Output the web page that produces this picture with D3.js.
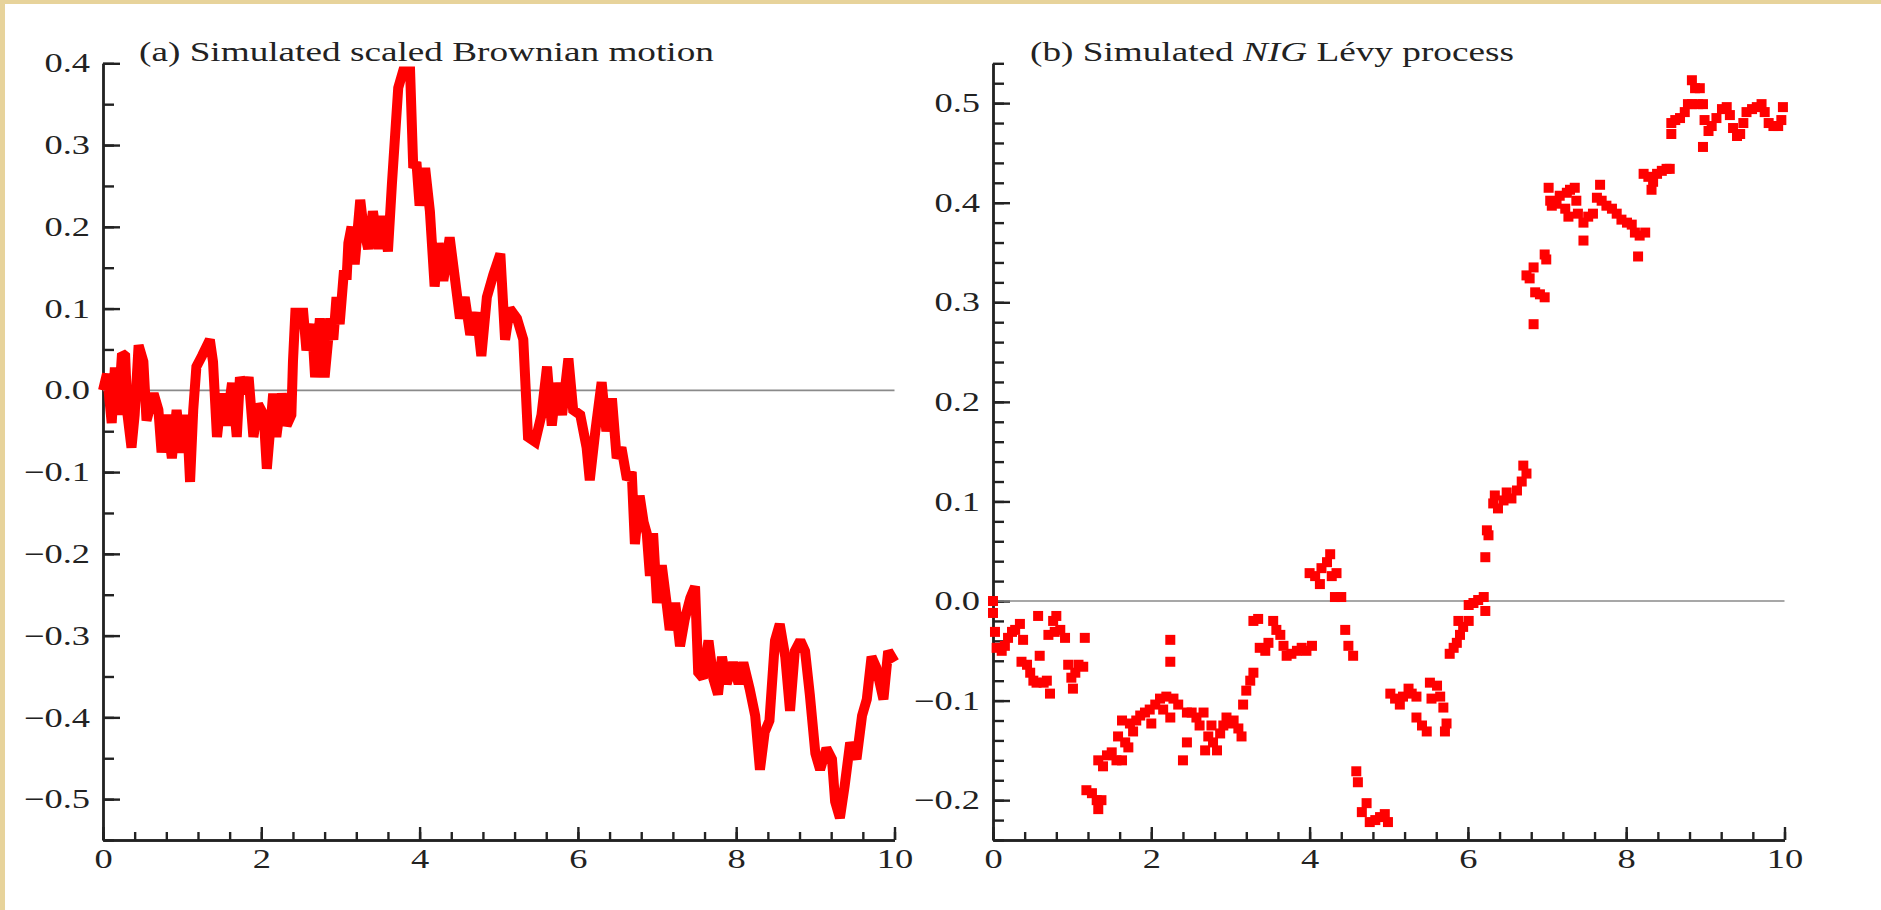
<!DOCTYPE html>
<html lang="en">
<head>
<meta charset="utf-8">
<title>Simulated Brownian motion and NIG Levy process</title>
<script src="https://cdnjs.cloudflare.com/ajax/libs/d3/7.8.5/d3.min.js"></script>
<style>
  body { margin: 0; background: #fff; overflow: hidden; }
  text { font-family: "Liberation Serif", "Times New Roman", serif; fill: #222; }
</style>
</head>
<body>
<script>
// (a) scaled Brownian motion
var bmT = [0.00,0.05,0.11,0.15,0.19,0.24,0.28,0.31,0.36,0.40,0.45,0.51,0.55,0.64,0.70,0.74,0.80,0.87,0.93,0.99,
  1.06,1.10,1.14,1.18,1.25,1.35,1.39,1.44,1.50,1.56,1.63,1.69,1.73,1.79,1.84,1.90,1.96,2.03,2.07,2.15,
  2.19,2.26,2.32,2.38,2.40,2.43,2.53,2.57,2.64,2.68,2.74,2.80,2.87,2.91,2.95,2.99,3.04,3.08,3.10,3.14,
  3.18,3.25,3.29,3.35,3.41,3.48,3.54,3.60,3.65,3.69,3.73,3.79,3.88,3.92,3.96,4.00,4.07,4.13,4.19,4.24,
  4.30,4.38,4.45,4.51,4.57,4.64,4.72,4.78,4.85,4.93,
  5.02,5.08,5.14,5.23,5.31,5.37,5.46,5.54,5.61,5.67,5.73,5.80,5.88,5.94,6.03,6.11,6.15,6.22,6.30,6.36,
  6.43,6.49,6.55,6.62,6.68,6.72,6.78,6.83,6.87,6.91,6.95,7.00,7.06,7.12,7.16,7.23,7.29,7.35,7.42,7.48,
  7.52,7.58,7.65,7.71,7.77,7.82,7.88,7.96,8.03,8.09,8.17,8.24,8.30,8.36,8.42,8.49,8.55,8.62,8.68,8.74,
  8.81,8.87,8.93,9.00,9.06,9.14,9.21,9.25,9.31,9.37,9.44,9.52,9.59,9.65,9.71,9.77,9.86,9.92,10.0];
var bmV = [0.00,0.02,-0.04,0.028,-0.03,0.045,0.042,-0.03,-0.07,-0.03,0.055,0.035,-0.037,-0.004,-0.024,-0.076,-0.03,-0.083,-0.024,-0.076,
  -0.03,-0.112,-0.024,0.029,0.042,0.062,0.035,-0.057,-0.004,-0.043,0.009,-0.057,0.016,-0.004,0.016,-0.057,-0.017,-0.03,-0.096,-0.004,
  -0.057,-0.004,-0.043,-0.03,0.035,0.095,0.095,0.049,0.081,0.016,0.088,0.016,0.088,0.062,0.114,0.081,0.141,0.141,0.18,0.20,
  0.154,0.233,0.20,0.173,0.219,0.173,0.213,0.17,0.252,0.311,0.37,0.39,0.39,0.272,0.279,0.226,0.272,0.219,0.127,0.18,
  0.134,0.187,0.134,0.088,0.114,0.068,0.095,0.042,0.114,0.141,
  0.167,0.062,0.10,0.088,0.062,-0.057,-0.063,-0.03,0.029,-0.043,0.009,-0.03,0.039,-0.024,-0.03,-0.07,-0.11,-0.05,0.01,-0.05,
  -0.01,-0.083,-0.07,-0.109,-0.10,-0.188,-0.129,-0.161,-0.175,-0.227,-0.175,-0.26,-0.214,-0.26,-0.293,-0.26,-0.313,-0.28,-0.254,-0.24,
  -0.345,-0.352,-0.306,-0.352,-0.372,-0.326,-0.359,-0.333,-0.359,-0.333,-0.365,-0.398,-0.464,-0.418,-0.404,-0.306,-0.286,-0.326,-0.392,-0.319,
  -0.306,-0.319,-0.372,-0.444,-0.464,-0.438,-0.451,-0.503,-0.523,-0.484,-0.431,-0.451,-0.398,-0.378,-0.326,-0.339,-0.378,-0.319,-0.332];

// (b) NIG Levy process, one entry per plotted square
var nigT = [0.00,0.00,0.025,0.046,0.11,0.15,0.19,0.24,0.28,0.34,0.38,0.36,0.43,0.47,0.51,0.55,0.59,0.57,0.64,0.68,
  0.72,0.70,0.76,0.80,0.78,0.85,0.91,0.95,0.99,1.04,1.08,1.14,1.01,1.16,1.18,1.25,1.31,1.33,1.37,1.33,
  1.39,1.44,1.50,1.56,1.63,1.58,1.63,1.67,1.71,1.73,1.77,1.81,1.86,1.92,1.98,2.00,2.05,2.11,2.15,2.19,
  2.24,2.28,2.24,2.24,2.34,2.40,2.45,2.45,2.51,2.57,2.61,2.66,2.68,2.72,2.76,2.78,2.83,2.87,2.91,2.95,
  2.99,3.04,3.10,3.14,3.16,3.20,3.25,3.29,3.29,3.35,3.37,3.44,3.48,3.54,3.58,3.63,3.67,3.71,3.77,3.84,
  3.90,3.96,4.03,4.00,4.07,4.13,4.15,4.22,4.26,4.28,4.34,4.32,4.40,4.45,4.49,4.55,4.59,4.61,4.66,4.72,
  4.76,4.83,4.89,4.95,4.99,5.02,5.08,5.14,5.18,5.25,5.29,5.35,5.35,5.42,5.48,5.52,5.54,5.61,5.65,5.69,
  5.73,5.71,5.77,5.82,5.86,5.90,5.88,5.94,6.01,6.01,6.07,6.13,6.20,6.22,6.22,6.26,6.24,6.32,6.34,6.38,
  6.45,6.49,6.55,6.62,6.68,6.70,6.74,6.74,6.78,6.83,6.85,6.91,6.97,6.83,6.97,6.99,7.02,7.04,7.06,7.12,
  7.16,7.23,7.27,7.25,7.29,7.35,7.37,7.39,7.46,7.46,7.52,7.58,7.63,7.67,7.69,7.75,7.82,7.88,7.94,8.01,
  8.07,8.11,8.17,8.24,8.15,8.22,8.28,8.32,8.34,8.39,8.45,8.51,8.55,8.57,8.57,8.62,8.68,8.74,8.78,8.83,
  8.87,8.93,8.83,8.91,8.97,8.97,8.99,9.04,9.08,9.14,9.21,9.27,9.31,9.35,9.40,9.44,9.48,9.52,9.59,9.65,
  9.71,9.75,9.80,9.86,9.92,9.96,9.98];
var nigV = [0.000,-0.012,-0.031,-0.047,-0.050,-0.045,-0.037,-0.031,-0.029,-0.023,-0.039,-0.061,-0.064,-0.072,-0.080,-0.082,-0.055,-0.015,-0.082,-0.080,
  -0.093,-0.034,-0.020,-0.015,-0.031,-0.029,-0.037,-0.064,-0.077,-0.072,-0.064,-0.066,-0.088,-0.037,-0.190,-0.193,-0.200,-0.209,-0.200,-0.160,
  -0.166,-0.155,-0.152,-0.160,-0.160,-0.136,-0.120,-0.142,-0.147,-0.123,-0.131,-0.120,-0.115,-0.112,-0.109,-0.123,-0.104,-0.098,-0.109,-0.096,
  -0.117,-0.098,-0.039,-0.061,-0.104,-0.160,-0.142,-0.112,-0.112,-0.117,-0.125,-0.112,-0.150,-0.136,-0.125,-0.142,-0.150,-0.133,-0.125,-0.117,
  -0.123,-0.120,-0.128,-0.136,-0.104,-0.090,-0.080,-0.072,-0.020,-0.018,-0.047,-0.050,-0.042,-0.020,-0.029,-0.034,-0.045,-0.055,-0.053,-0.050,
  -0.047,-0.050,-0.045,0.028,0.025,0.017,0.033,0.039,0.047,0.025,0.028,0.004,0.004,-0.029,-0.045,-0.055,-0.171,-0.182,-0.212,-0.203,
  -0.222,-0.220,-0.217,-0.214,-0.222,-0.093,-0.098,-0.104,-0.096,-0.088,-0.093,-0.096,-0.117,-0.125,-0.131,-0.082,-0.098,-0.085,-0.096,-0.107,
  -0.123,-0.131,-0.053,-0.047,-0.042,-0.034,-0.020,-0.026,-0.020,-0.004,-0.002,0.001,0.004,-0.010,0.044,0.066,0.071,0.098,0.106,0.093,
  0.101,0.109,0.103,0.111,0.120,0.136,0.128,0.327,0.324,0.335,0.310,0.308,0.305,0.278,0.348,0.343,0.415,0.402,0.397,0.399,
  0.407,0.394,0.386,0.410,0.413,0.415,0.402,0.389,0.380,0.362,0.386,0.389,0.405,0.418,0.402,0.397,0.394,0.389,0.383,0.380,
  0.378,0.370,0.367,0.370,0.346,0.429,0.426,0.413,0.421,0.429,0.432,0.434,0.434,0.469,0.480,0.483,0.485,0.491,0.499,0.523,
  0.515,0.515,0.499,0.499,0.499,0.456,0.483,0.472,0.477,0.485,0.494,0.496,0.488,0.475,0.467,0.469,0.480,0.491,0.494,0.496,
  0.499,0.491,0.480,0.477,0.477,0.483,0.496];

var xTicks = [0, 2, 4, 6, 8, 10];
var bmTicks = [-0.5, -0.4, -0.3, -0.2, -0.1, 0.0, 0.1, 0.2, 0.3, 0.4];
var nigTicks = [-0.2, -0.1, 0.0, 0.1, 0.2, 0.3, 0.4, 0.5];
var titleA = "(a) Simulated scaled Brownian motion";

var W = 1881, H = 910;
var sx = 1.35; // the source figure was stretched sideways

var svg = d3.select("body").append("svg")
    .attr("width", W)
    .attr("height", H);

svg.append("rect").attr("width", W).attr("height", H).attr("fill", "#fff");
svg.append("rect").attr("width", W).attr("height", 4).attr("fill", "#e7d39b");
svg.append("rect").attr("width", 5).attr("height", H).attr("fill", "#e7d39b");

function range(a, b, s) {
    return d3.range(Math.round(a / s), Math.round(b / s) + 1).map(function(k) { return +(k * s).toFixed(4); });
}

function panel(x0, x1, yDom, majors, minorStep) {
    var x = d3.scaleLinear().domain([0, 10]).range([x0, x1]);
    var y = d3.scaleLinear().domain(yDom).range([840, 63.3]);
    var g = svg.append("g");

    // minor ticks
    g.append("g")
        .attr("transform", "translate(" + x0 + ",0)")
        .call(d3.axisLeft(y).tickValues(range(yDom[0], yDom[1], minorStep)).tickSize(-11).tickSizeOuter(0).tickFormat(""));
    g.append("g")
        .attr("transform", "translate(0,840)")
        .call(d3.axisBottom(x).tickValues(range(0, 10, 0.4)).tickSize(-8).tickSizeOuter(0).tickFormat(""));

    var ya = g.append("g")
        .attr("transform", "translate(" + x0 + ",0)")
        .call(d3.axisLeft(y).tickValues(majors).tickSize(-17).tickSizeOuter(0).tickPadding(13).tickFormat(d3.format(".1f")));
    var xa = g.append("g")
        .attr("transform", "translate(0,840)")
        .call(d3.axisBottom(x).tickValues(xTicks).tickSize(-13).tickSizeOuter(0).tickPadding(9));

    g.selectAll(".domain, .tick line").attr("stroke", "#222").attr("stroke-width", 2.4);
    g.selectAll(".tick text")
        .attr("font-family", null)
        .attr("font-size", 27)
        .attr("fill", "#222");
    ya.selectAll(".tick text").attr("x", -13 / sx).attr("transform", "scale(" + sx + ",1)");
    xa.selectAll(".tick text").attr("transform", "scale(" + sx + ",1)");

    g.append("line")
        .attr("x1", x(0)).attr("x2", x(10))
        .attr("y1", y(0)).attr("y2", y(0))
        .attr("stroke", "#8a8a8a")
        .attr("stroke-width", 1.6);

    return { x: x, y: y, g: g };
}

// left panel
var pa = panel(103, 894.5, [-0.55, 0.4], bmTicks, 0.05);
var line = d3.line()
    .x(function(d, i) { return pa.x(bmT[i]); })
    .y(function(d, i) { return pa.y(bmV[i]); });
pa.g.append("path")
    .datum(bmV)
    .attr("d", line)
    .attr("fill", "none")
    .attr("stroke", "#ff0000")
    .attr("stroke-width", 10)
    .attr("stroke-linejoin", "miter")
    .attr("stroke-miterlimit", 2);

svg.append("text")
    .attr("transform", "translate(139,61) scale(1.33,1)")
    .attr("font-size", 28)
    .attr("fill", "#333")
    .text(titleA);

// right panel
var pb = panel(993, 1784.5, [-0.24, 0.54], nigTicks, 0.02);
pb.g.selectAll("rect.pt")
    .data(nigV)
    .enter()
    .append("rect")
    .attr("class", "pt")
    .attr("x", function(d, i) { return pb.x(nigT[i]) - 5; })
    .attr("y", function(d) { return pb.y(d) - 5; })
    .attr("width", 10)
    .attr("height", 10)
    .attr("fill", "#ff0000");

var tb = svg.append("text")
    .attr("transform", "translate(1030,61) scale(1.33,1)")
    .attr("font-size", 28)
    .attr("fill", "#333");
tb.append("tspan").text("(b) Simulated ");
tb.append("tspan").attr("font-style", "italic").text("NIG");
tb.append("tspan").text(" Lévy process");
</script>
</body>
</html>
